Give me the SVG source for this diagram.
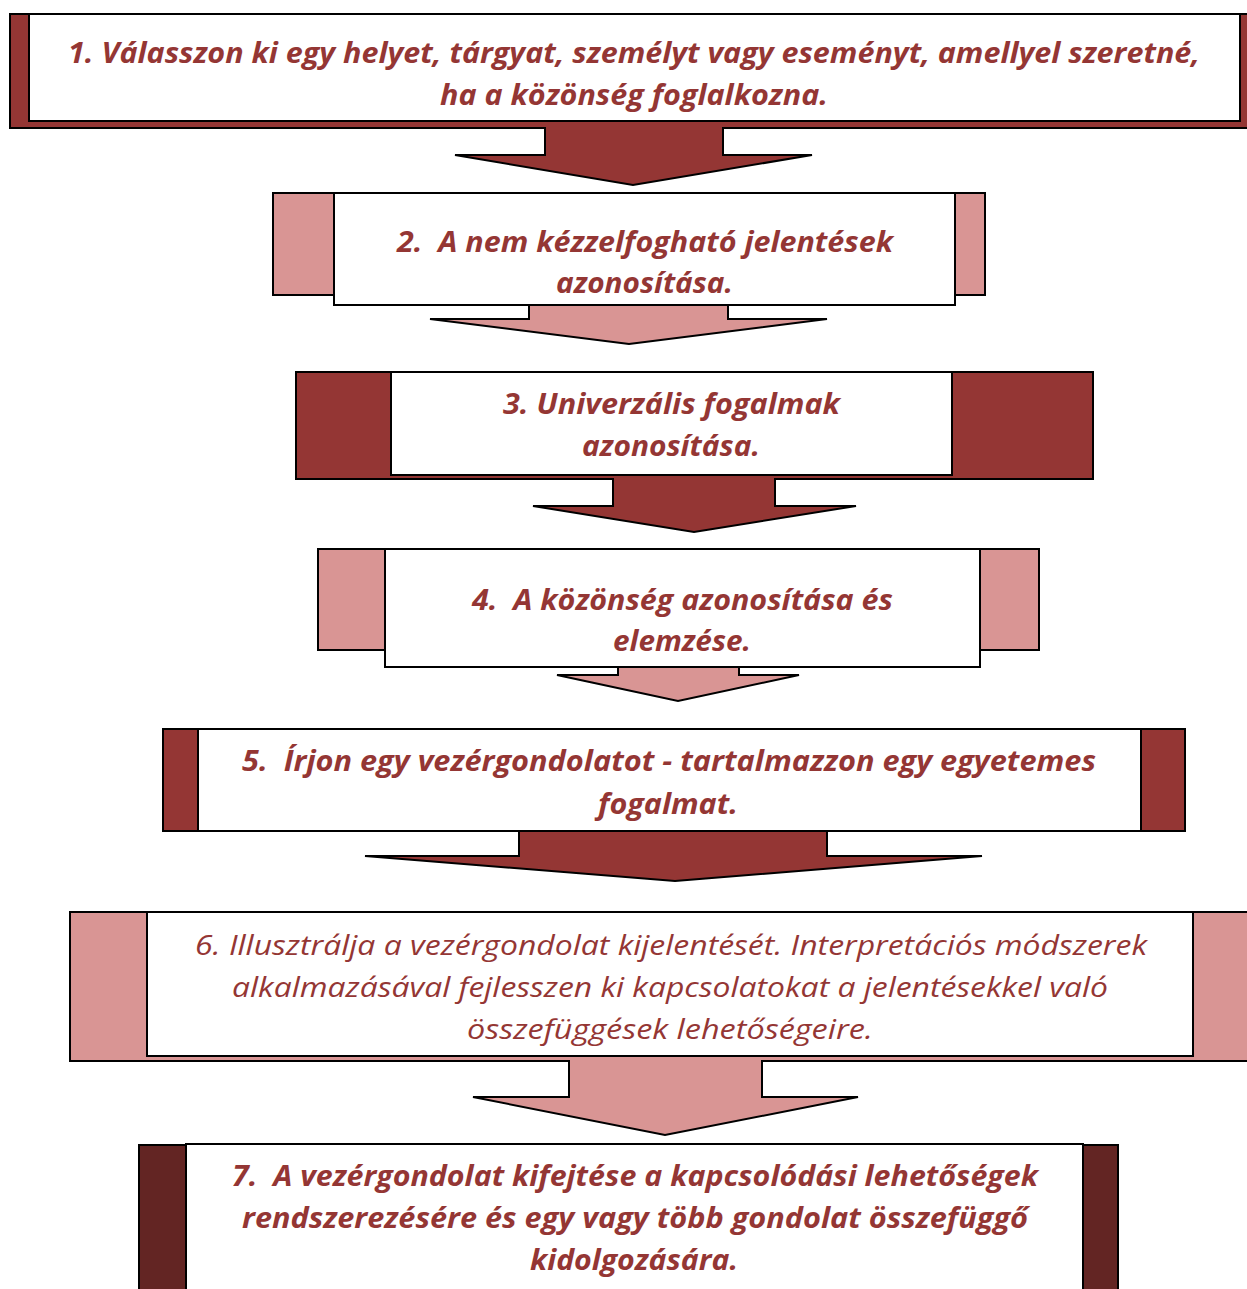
<svg xmlns="http://www.w3.org/2000/svg" width="1247" height="1289" viewBox="0 0 1247 1289">
<style>
.bg{stroke:#000;stroke-width:2;stroke-linejoin:miter}
.dk{fill:#943634}
.pk{fill:#D99594}
.dd{fill:#632523}
.wb{fill:#fff;stroke:#000;stroke-width:2}
.t{font-family:"Open Sans","Noto Sans","Liberation Sans",sans-serif;font-size:28px;font-style:italic;font-weight:bold;fill:#943634;text-anchor:middle}
.n{font-weight:normal}
</style>
<rect width="1247" height="1289" fill="#fff"/>
<g id="connectors">
<path class="bg dk" d="M10,14 H1249 V128 H723 V155 H812 L633,185 L455,155 H545 V128 H10 Z"/>
<path class="bg pk" d="M273,193 H985 V295 H728 V319 H827 L629,344 L430,319 H529 V295 H273 Z"/>
<path class="bg dk" d="M296,372 H1093 V479 H775 V506 H856 L694,532 L533,506 H613 V479 H296 Z"/>
<path class="bg pk" d="M318,549 H1039 V650 H739 V675 H799 L678,701 L557,675 H618 V650 H318 Z"/>
<path class="bg dk" d="M163,729 H1185 V831 H827 V856 H982 L675,881 L365,856 H519 V831 H163 Z"/>
<path class="bg pk" d="M70,912 H1249 V1061 H762 V1097 H858 L665,1135 L473,1097 H569 V1061 H70 Z"/>
<path class="bg dd" d="M139,1145 H1118 V1295 H139 Z"/>
</g>
<g id="node1">
<rect class="wb" x="29" y="14" width="1211" height="107"/>
<text class="t" x="634" y="63" textLength="1132" lengthAdjust="spacingAndGlyphs">1. Válasszon ki egy helyet, tárgyat, személyt vagy eseményt, amellyel szeretné,</text>
<text class="t" x="634" y="105" textLength="388" lengthAdjust="spacingAndGlyphs">ha a közönség foglalkozna.</text>
</g>
<g id="node2">
<rect class="wb" x="334" y="193" width="621" height="112"/>
<text class="t" x="645" y="252" textLength="496" lengthAdjust="spacingAndGlyphs">2.&#160; A nem kézzelfogható jelentések</text>
<text class="t" x="644.5" y="293" textLength="177" lengthAdjust="spacingAndGlyphs">azonosítása.</text>
</g>
<g id="node3">
<rect class="wb" x="391" y="372" width="561" height="103"/>
<text class="t" x="671.5" y="414" textLength="337" lengthAdjust="spacingAndGlyphs">3. Univerzális fogalmak</text>
<text class="t" x="671" y="456" textLength="178" lengthAdjust="spacingAndGlyphs">azonosítása.</text>
</g>
<g id="node4">
<rect class="wb" x="385" y="549" width="595" height="118"/>
<text class="t" x="682.5" y="610" textLength="421" lengthAdjust="spacingAndGlyphs">4.&#160; A közönség azonosítása és</text>
<text class="t" x="682" y="651" textLength="138" lengthAdjust="spacingAndGlyphs">elemzése.</text>
</g>
<g id="node5">
<rect class="wb" x="198" y="729" width="943" height="102"/>
<text class="t" x="669" y="771" textLength="854" lengthAdjust="spacingAndGlyphs">5.&#160; Írjon egy vezérgondolatot - tartalmazzon egy egyetemes</text>
<text class="t" x="668" y="814" textLength="140" lengthAdjust="spacingAndGlyphs">fogalmat.</text>
</g>
<g id="node6">
<rect class="wb" x="147" y="912" width="1046" height="144"/>
<text class="t n" x="671" y="955" textLength="952" lengthAdjust="spacingAndGlyphs">6. Illusztrálja a vezérgondolat kijelentését. Interpretációs módszerek</text>
<text class="t n" x="670" y="997" textLength="876" lengthAdjust="spacingAndGlyphs">alkalmazásával fejlesszen ki kapcsolatokat a jelentésekkel való</text>
<text class="t n" x="670" y="1039" textLength="406" lengthAdjust="spacingAndGlyphs">összefüggések lehetőségeire.</text>
</g>
<g id="node7">
<rect class="wb" x="186" y="1144" width="897" height="150"/>
<text class="t" x="635" y="1186" textLength="806" lengthAdjust="spacingAndGlyphs">7.&#160; A vezérgondolat kifejtése a kapcsolódási lehetőségek</text>
<text class="t" x="635" y="1228" textLength="786" lengthAdjust="spacingAndGlyphs">rendszerezésére és egy vagy több gondolat összefüggő</text>
<text class="t" x="634" y="1270" textLength="208" lengthAdjust="spacingAndGlyphs">kidolgozására.</text>
</g>
</svg>
